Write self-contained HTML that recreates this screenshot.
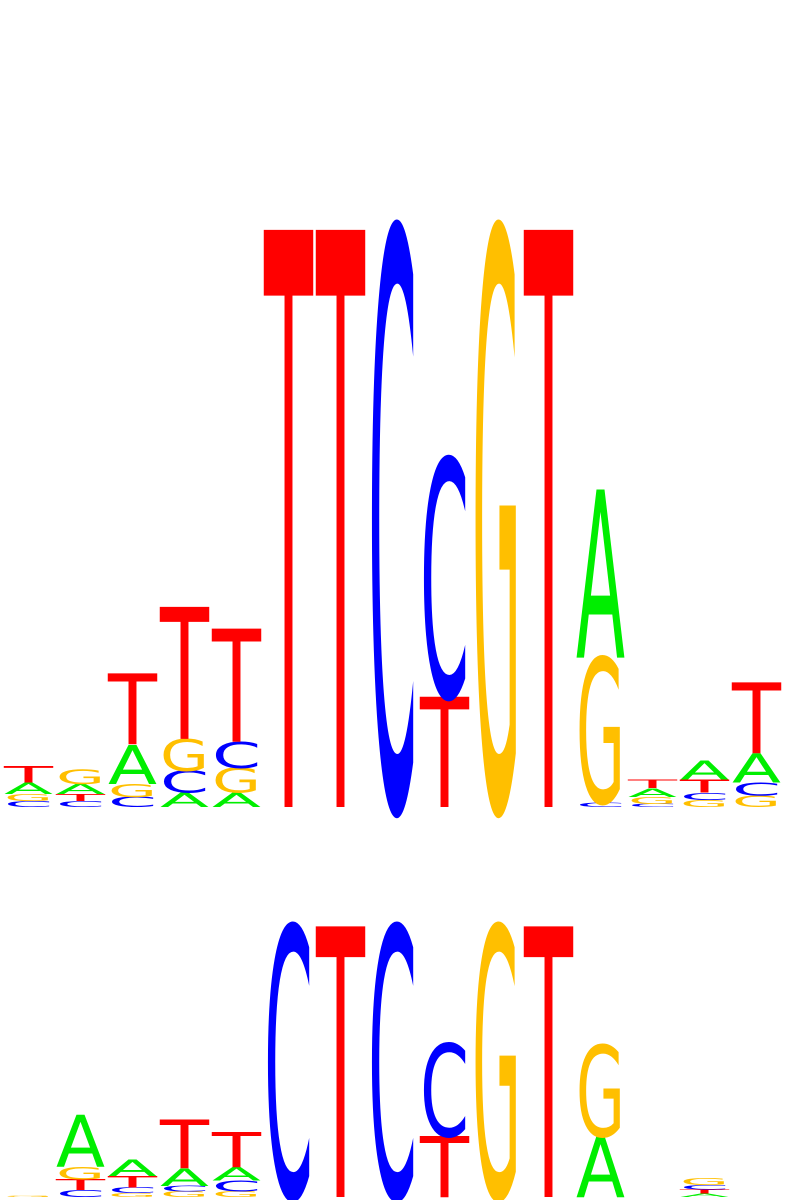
<!DOCTYPE html>
<html><head><meta charset="utf-8"><style>
html,body{margin:0;padding:0;background:#fff;overflow:hidden;}
svg{display:block;}
text{font-family:"DejaVu Sans","Liberation Sans",sans-serif;font-weight:normal;}
</style></head><body>
<svg id="logo" width="795" height="1200" viewBox="0 0 795 1200" xmlns="http://www.w3.org/2000/svg">
<g id="top"></g>
<g id="bottom"></g>
</svg>
<script>
// Top logo: letters per position (bottom to top) and heights in bits
const topLetters = [
  ["C","G","A","T"],["C","T","A","G"],["C","G","A","T"],["A","C","G","T"],["A","G","C","T"],
  ["T"],["T"],["C"],["T","C"],["G"],["T"],["C","G","A"],["C","G","A","T"],["G","C","T","A"],["G","C","A","T"]
];
const topBits = [
  [0.02,0.025,0.04,0.055],[0.02,0.025,0.035,0.05],[0.035,0.045,0.135,0.245],[0.05,0.075,0.11,0.455],[0.05,0.085,0.09,0.39],
  [1.99],[1.99],[1.99],[0.38,0.82],[1.99],[1.99],[0.015,0.5,0.58],[0.01,0.025,0.03,0.03],[0.025,0.025,0.045,0.065],[0.04,0.045,0.1,0.245]
];
// Bottom logo
const bottomLetters = [
  ["G"],["C","T","G","A"],["G","C","T","A"],["G","C","A","T"],["G","C","A","T"],
  ["C"],["T"],["C"],["T","C"],["G"],["T"],["A","G"],[],["A","T","C","G"],[]
];
const bottomBits = [
  [0.01],[0.05,0.08,0.09,0.38],[0.03,0.04,0.085,0.12],[0.04,0.04,0.13,0.36],[0.04,0.08,0.1,0.26],
  [1.99],[1.99],[1.99],[0.45,0.68],[1.99],[1.99],[0.45,0.67],[],[0.025,0.03,0.035,0.05],[]
];
const colors = {A:"#00ee00",C:"#0000ff",G:"#ffbf00",T:"#ff0000"};
const NS = "http://www.w3.org/2000/svg";
const CAP = 72.9; // cap height at font-size 100
function xPos(i){ return 5 + 52*i; }
function draw(groupId, letters, bits, baseline, pxPerBit){
  const g = document.getElementById(groupId);
  letters.forEach((col, i) => {
    let y = baseline;
    col.forEach((L, j) => {
      const h = bits[i][j]*pxPerBit;
      y -= h;
      const t = document.createElementNS(NS, "text");
      t.setAttribute("x", 0);
      t.setAttribute("y", 0);
      t.setAttribute("font-size", 100);
      t.setAttribute("textLength", 49);
      t.setAttribute("lengthAdjust", "spacingAndGlyphs");
      t.setAttribute("fill", colors[L]);
      t.setAttribute("transform", "translate(" + (xPos(i)-1) + "," + (y+h) + ") scale(1," + (h/CAP) + ")");
      
      
      t.textContent = L;
      g.appendChild(t);
    });
  });
}
draw("top", topLetters, topBits, 807, 290);
draw("bottom", bottomLetters, bottomBits, 1197, 136);
</script>
</body></html>
